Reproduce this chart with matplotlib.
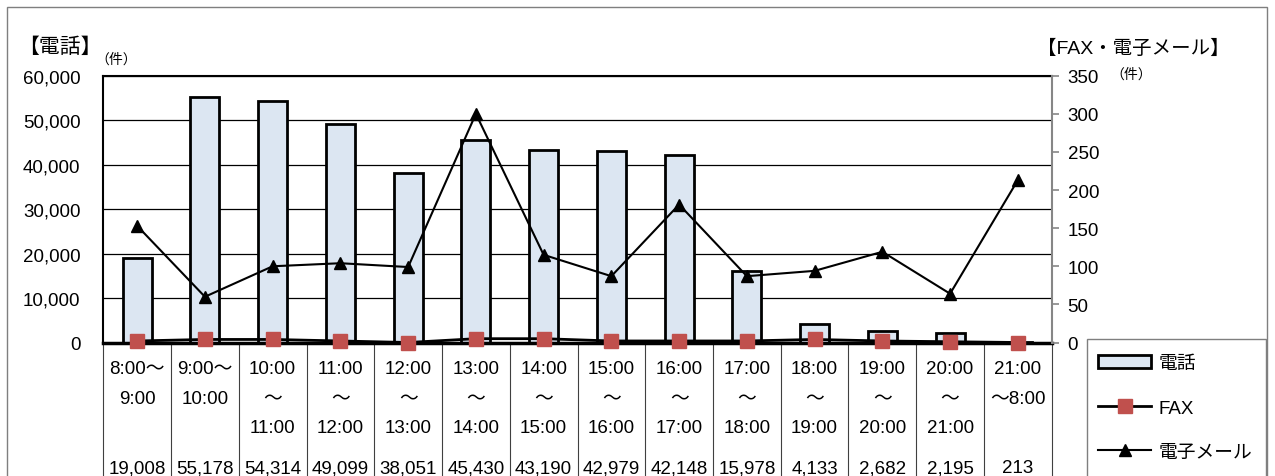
import matplotlib
matplotlib.use('Agg')
import matplotlib.pyplot as plt
import matplotlib.transforms as mtransforms
from matplotlib.patches import Rectangle, Patch
from matplotlib.lines import Line2D
from matplotlib.ticker import FuncFormatter
import numpy as np

plt.rcParams['font.family'] = ['Liberation Sans', 'Noto Sans CJK JP', 'DejaVu Sans']

# time slots and counts
slots = ['8:00～\n9:00', '9:00～\n10:00', '10:00\n～\n11:00', '11:00\n～\n12:00',
         '12:00\n～\n13:00', '13:00\n～\n14:00', '14:00\n～\n15:00', '15:00\n～\n16:00',
         '16:00\n～\n17:00', '17:00\n～\n18:00', '18:00\n～\n19:00', '19:00\n～\n20:00',
         '20:00\n～\n21:00', '21:00\n～8:00']
phone = [19008, 55178, 54314, 49099, 38051, 45430, 43190, 42979, 42148, 15978, 4133, 2682, 2195, 213]
fax = [2, 4, 4, 2, 0, 5, 5, 2, 2, 2, 4, 2, 1, 0]
email = [153, 60, 100, 104, 99, 300, 115, 87, 181, 87, 94, 119, 64, 213]

W, H = 1275, 477
fig = plt.figure(figsize=(W/100, H/100), dpi=100)

L, R, T, B = 103.3, 1051.7, 76.7, 343.5
ax = fig.add_axes([L/W, 1-B/H, (R-L)/W, (B-T)/H])
x = np.arange(len(slots))

ax.bar(x, phone, width=0.43, color='#DCE6F2', edgecolor='black', linewidth=2, zorder=2)
ax.set_xlim(-0.5, len(slots)-0.5)
ax.set_ylim(0, 60000)
ax.set_yticks(np.arange(0, 60001, 10000))
ax.yaxis.set_major_formatter(FuncFormatter(lambda v, p: f'{int(v):,}'))
ax.yaxis.grid(True, color='black', lw=0.9)
ax.set_axisbelow(True)
ax.set_xticks([])
ax.tick_params(axis='y', length=0, pad=16.5, labelsize=13.5)
ax.spines['left'].set_linewidth(1.5)
ax.spines['top'].set_linewidth(1.5)
ax.spines['bottom'].set_linewidth(2.5)
ax.spines['right'].set_visible(False)

ax2 = ax.twinx()
ax2.set_ylim(0, 350)
ax2.set_yticks(np.arange(0, 351, 50))
ax2.plot(x, fax, color='black', lw=2, marker='s', ms=10.5, mfc='#C0504D', mec='#C0504D',
         clip_on=False, zorder=3)
ax2.plot(x, email, color='black', lw=1.5, marker='^', ms=9, clip_on=False, zorder=4)
for s in ['left', 'top', 'bottom']:
    ax2.spines[s].set_visible(False)
ax2.spines['right'].set_color('#868686')
ax2.spines['right'].set_linewidth(1.5)
ax2.tick_params(axis='y', direction='out', length=5, width=1.2, color='#868686',
                pad=6.5, labelsize=13.5)

# data table under the chart
tb = mtransforms.blended_transform_factory(ax.transData, ax.transAxes)
for b in np.arange(-0.5, len(slots)):
    ax.plot([b, b], [0, -(H-B+5)/(B-T)], transform=tb, color='#404040', lw=0.8, clip_on=False)

tf = mtransforms.blended_transform_factory(ax.transData, fig.transFigure)
row_y = [370, 400, 429]
for i, lab in enumerate(slots):
    for j, line in enumerate(lab.split('\n')):
        ax.text(i, 1-row_y[j]/H, line, transform=tf, ha='center', va='center', fontsize=13.5)
    ax.text(i, 1-469/H, f'{phone[i]:,}', transform=tf, ha='center', va='center', fontsize=13.5)

# titles
fig.text(60/W, 1-47/H, '【電話】', ha='center', va='center', fontsize=15)
fig.text(116/W, 1-60/H, '（件）', ha='center', va='center', fontsize=10)
fig.text(1133/W, 1-49/H, '【FAX・電子メール】', ha='center', va='center', fontsize=14)
fig.text(1131/W, 1-75/H, '（件）', ha='center', va='center', fontsize=10)

# legend
handles = [Patch(facecolor='#DCE6F2', edgecolor='black', linewidth=2),
           Line2D([], [], color='black', lw=2, marker='s', ms=10.5, mfc='#C0504D', mec='#C0504D'),
           Line2D([], [], color='black', lw=1.5, marker='^', ms=9)]
fig.legend(handles, ['電話', 'FAX', '電子メール'], loc='upper left',
           bbox_to_anchor=(1087/W, 1-345/H), frameon=False, borderpad=0.6, borderaxespad=0,
           labelspacing=1.45, handlelength=2.8, handletextpad=0.4, fontsize=13.5)
fig.add_artist(Rectangle((1087/W, -0.05), (1266-1087)/W, 1-340/H+0.05,
                         transform=fig.transFigure, fill=False, edgecolor='#7f7f7f', lw=1))

# outer frame
fig.add_artist(Rectangle((7/W, -0.05), (1267-7)/W, 1-8/H+0.05,
                         transform=fig.transFigure, fill=False, edgecolor='#7f7f7f', lw=1))

fig.savefig('out.png', dpi=100)
